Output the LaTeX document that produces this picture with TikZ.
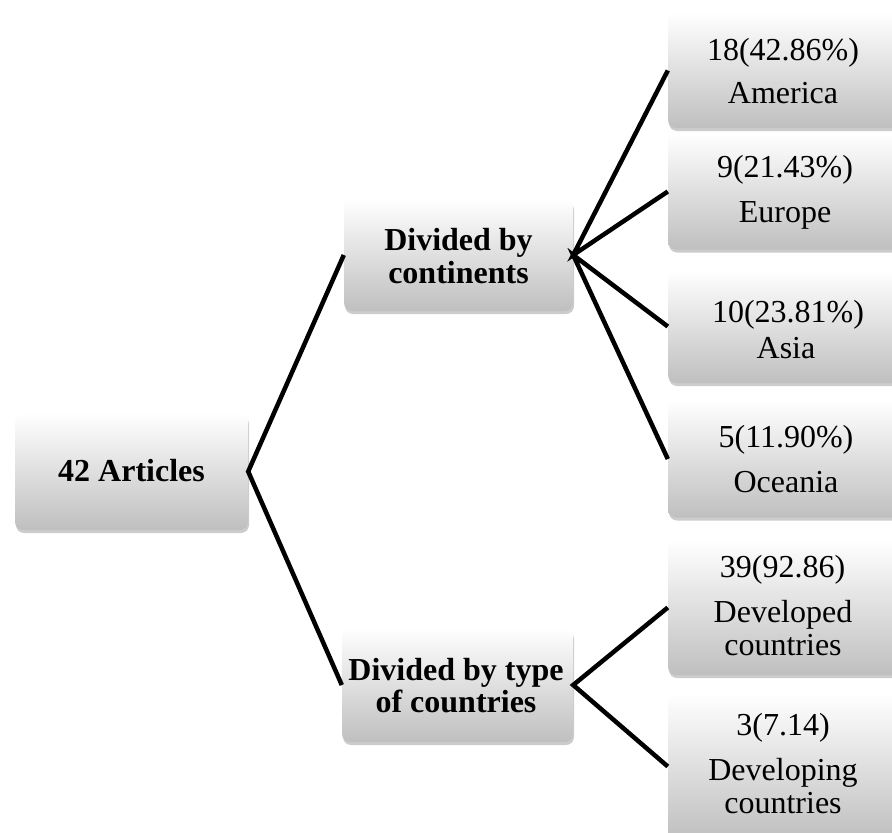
\documentclass[tikz,border=0pt]{standalone}
\usepackage{fontspec}
\setmainfont{Liberation Serif}
\usetikzlibrary{shadows}
\begin{document}
\begin{tikzpicture}[x=1pt,y=1pt,
  box/.style={rounded corners=8pt, top color=white, bottom color=gray!50,
    drop shadow={shadow xshift=1pt, shadow yshift=-3pt, opacity=0.4, fill=gray},
    inner sep=0pt},
  txt/.style={anchor=base, inner sep=0pt, text=black, font=\fontsize{32}{33}\selectfont},
  txtb/.style={txt, font=\fontsize{32}{33}\selectfont\bfseries},
  conn/.style={line width=4.5pt, black}]
\useasboundingbox (0,0) rectangle (892,-833);
% left boxes
\node[box, minimum width=233pt, minimum height=117pt] (art) at (131.5,-471.5) {};
\node[box, minimum width=229pt, minimum height=112pt] (cont) at (458.5,-255) {};
\node[box, minimum width=231pt, minimum height=114pt] (type) at (457.5,-685) {};
% right boxes
\node[box, minimum width=234pt, minimum height=115pt] (am) at (785,-70.5) {};
\node[box, minimum width=234pt, minimum height=116pt] (eu) at (785,-191.5) {};
\node[box, minimum width=234pt, minimum height=113pt] (as) at (785,-326.5) {};
\node[box, minimum width=234pt, minimum height=117pt] (oc) at (785,-459) {};
\node[box, minimum width=234pt, minimum height=135pt] (dv) at (785,-607.5) {};
\node[box, minimum width=234pt, minimum height=147pt] (dg) at (785,-766.5) {};
% left texts
\node[txtb] (artt) at (131.5,-481.5) {42 Articles};
\node[txtb] (contt1) at (458.5,-250) {Divided by};
\node[txtb] (contt2) at (458.5,-283) {continents};
\node[txtb] (typet1) at (456,-680) {Divided by type};
\node[txtb] (typet2) at (456,-712) {of countries};
% right texts
\node[txt] (amt1) at (783,-60) {18(42.86\%)};
\node[txt] (amt2) at (783,-103) {America};
\node[txt] (eut1) at (785,-177) {9(21.43\%)};
\node[txt] (eut2) at (785,-222) {Europe};
\node[txt] (ast1) at (788,-322) {10(23.81\%)};
\node[txt] (ast2) at (786,-358) {Asia};
\node[txt] (oct1) at (786,-447) {5(11.90\%)};
\node[txt] (oct2) at (786,-492) {Oceania};
\node[txt] (dvt1) at (782.5,-577) {39(92.86)};
\node[txt] (dvt2) at (783,-622) {Developed};
\node[txt] (dvt3) at (783,-655) {countries};
\node[txt] (dgt1) at (783,-735) {3(7.14)};
\node[txt] (dgt2) at (783,-780) {Developing};
\node[txt] (dgt3) at (783,-813) {countries};
% connectors
\draw[conn] (cont.west) -- (art.east) -- (type.west);
\draw[conn] (am.west) -- (cont.east) -- (eu.west);
\draw[conn] (as.west) -- (cont.east) -- (oc.west);
\draw[conn] (dv.west) -- (type.east) -- (dg.west);
\end{tikzpicture}
\end{document}
